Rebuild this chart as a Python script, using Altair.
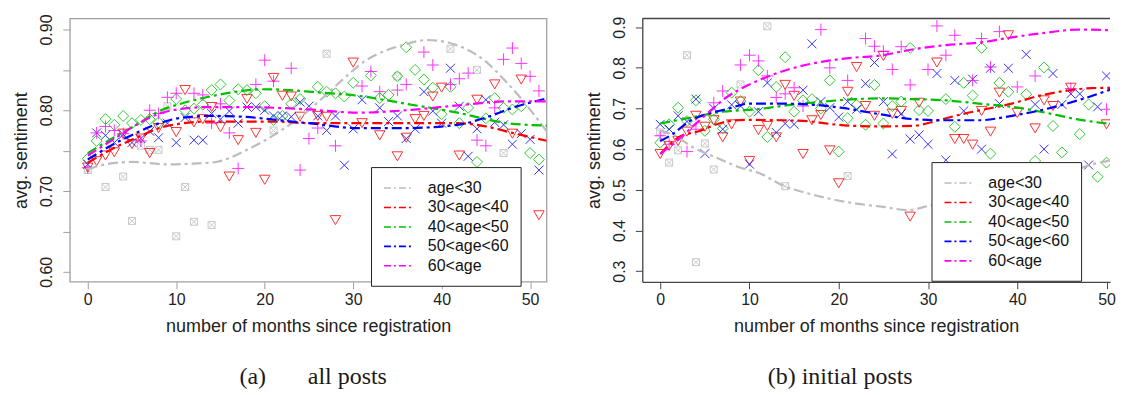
import altair as alt
import pandas as pd

FONT = "Liberation Sans"
SERIES = ["age<30", "30<age<40", "40<age<50", "50<age<60", "60<age"]
COLORS = ["#bdbdbd", "#ff0000", "#00c000", "#0000ff", "#ff00ff"]
SHAPES = ["M-1,-1H1V1H-1ZM-1,-1L1,1M-1,1L1,-1", "triangle-down", "diamond",
          "M-1,-1L1,1M-1,1L1,-1", "M-1,0H1M0,-1V1"]
SIZES = [49, 110, 120, 80, 144]
X_TICKS = [0, 10, 20, 30, 40, 50]

# ---------------- panel (a): all posts ----------------
A_GRAY = [(0, .726), (2, .705), (4, .718), (5, .663), (6, .756), (7, .751), (8, .751), (9, .805),
          (10, .644), (11, .705), (12, .662), (14, .658), (21, .775), (27, .870), (35, .842),
          (41, .876), (44, .850), (47, .747)]
A_RED = [(0, .729), (1, .737), (2, .744), (3, .748), (4, .771), (5, .758), (6, .765), (7, .747),
         (8, .778), (10, .773), (11, .825), (12, .785), (13, .789), (14, .804), (15, .779),
         (16, .718), (17, .763), (18, .814), (19, .772), (20, .714), (21, .840), (22, .818),
         (23, .817), (24, .792), (26, .793), (27, .792), (28, .664), (30, .859), (31, .784),
         (33, .769), (35, .743), (36, .766), (37, .789), (38, .793), (39, .817), (40, .828),
         (42, .744), (44, .813), (46, .832), (48, .771), (49, .838), (51, .670)]
A_GREEN = [(0, .740), (1, .762), (2, .789), (3, .782), (4, .793), (5, .784), (6, .788), (7, .789),
           (8, .785), (10, .814), (11, .800), (12, .802), (13, .807), (14, .825), (15, .832),
           (16, .812), (17, .826), (18, .825), (19, .821), (20, .805), (21, .788), (22, .793),
           (23, .808), (24, .814), (26, .829), (27, .823), (28, .821), (29, .817), (30, .834),
           (32, .843), (33, .815), (34, .819), (35, .842), (36, .878), (37, .850), (38, .838),
           (39, .828), (40, .795), (41, .829), (42, .784), (43, .803), (44, .736), (45, .790),
           (46, .815), (47, .803), (48, .801), (49, .805), (50, .747), (51, .739)]
A_BLUE = [(0, .733), (1, .772), (2, .769), (3, .760), (4, .770), (5, .760), (6, .765), (7, .774),
          (8, .766), (9, .784), (10, .760), (11, .791), (12, .763), (13, .763), (14, .796),
          (15, .789), (16, .799), (17, .784), (18, .804), (19, .804), (20, .800), (21, .793),
          (22, .793), (23, .792), (24, .810), (25, .805), (26, .793), (27, .775), (28, .793),
          (29, .732), (30, .777), (31, .813), (33, .803), (34, .786), (35, .793), (36, .765),
          (37, .777), (38, .823), (39, .799), (40, .784), (41, .852), (42, .805), (43, .743),
          (44, .777), (45, .813), (46, .785), (47, .782), (48, .758), (49, .771), (50, .764),
          (51, .726)]
A_MAGENTA = [(0, .729), (1, .772), (2, .780), (3, .775), (4, .771), (6, .762), (7, .800), (8, .796),
             (9, .816), (10, .821), (12, .821), (13, .819), (14, .784), (15, .808), (16, .772),
             (17, .728), (19, .832), (20, .862), (21, .836), (23, .852), (24, .726), (25, .765),
             (26, .778), (28, .756), (31, .830), (32, .848), (33, .823), (35, .825), (36, .832),
             (38, .872), (39, .856), (41, .832), (42, .839), (43, .846), (44, .763), (45, .756),
             (46, .803), (47, .863), (48, .877), (49, .858), (50, .842), (51, .824)]

A_FIT_GRAY = [(0, .727), (2, .733), (5, .736), (9, .733), (12, .734), (14.5, .736), (18, .751),
              (22, .776), (25, .800), (28, .830), (31.5, .862), (35.7, .881), (38.4, .887),
              (41, .883), (44.8, .862), (47.4, .834), (49.7, .805), (52, .772)]
A_FIT_RED = [(0, .735), (2.9, .753), (5.5, .766), (8.1, .778), (10.8, .784), (13.8, .786),
             (17.5, .786), (21.3, .786), (25, .784), (30.5, .784), (36, .784), (41.8, .784),
             (45, .780), (48, .772), (52, .762)]
A_FIT_GREEN = [(0, .747), (2.9, .766), (5.5, .782), (8.1, .799), (10.8, .809), (13.8, .817),
               (16.8, .823), (19.8, .826), (22.8, .825), (25, .823), (30.5, .818), (36, .808),
               (41.8, .797), (47.4, .784), (52, .781)]
A_FIT_BLUE = [(0, .739), (2.9, .758), (5.5, .772), (8.1, .784), (10.8, .791), (13.8, .793),
              (17.5, .792), (21.3, .788), (25, .784), (30.5, .778), (36, .778), (41.8, .782),
              (45, .791), (48, .803), (52, .815)]
A_FIT_MAGENTA = [(0, .744), (2.9, .764), (5.5, .782), (8.1, .796), (10.8, .802), (13.8, .804),
                 (17.5, .804), (21.3, .803), (25, .801), (30.5, .797), (36, .800), (41.8, .806),
                 (47.4, .811), (52, .811)]

# ---------------- panel (b): initial posts ----------------
B_GRAY = [(0, .641), (1, .567), (2, .597), (3, .831), (4, .322), (5, .614), (6, .550), (9, .759),
          (12, .902), (14, .509), (21, .534)]
B_RED = [(0, .588), (1, .608), (2, .620), (3, .643), (4, .682), (5, .655), (6, .671), (7, .629),
         (8, .661), (9, .717), (10, .571), (11, .647), (12, .657), (13, .629), (14, .758),
         (15, .731), (16, .588), (17, .671), (18, .684), (19, .597), (20, .516), (21, .741),
         (22, .802), (23, .706), (24, .682), (25, .829), (26, .687), (27, .694), (28, .434),
         (29, .714), (31, .813), (33, .625), (34, .625), (35, .611), (36, .694), (37, .643),
         (38, .739), (39, .880), (40, .689), (42, .651), (43, .720), (44, .706), (46, .751),
         (50, .661), (51, .510)]
B_GREEN = [(0, .616), (1, .661), (2, .702), (3, .669), (4, .720), (5, .645), (6, .673), (7, .651),
           (8, .739), (9, .718), (10, .692), (11, .794), (12, .630), (13, .753), (14, .826),
           (15, .692), (16, .720), (17, .723), (18, .700), (19, .769), (20, .594), (21, .676),
           (22, .709), (23, .660), (24, .758), (25, .663), (26, .706), (27, .717), (28, .849),
           (29, .696), (30, .694), (32, .723), (33, .655), (34, .763), (35, .732), (36, .849),
           (37, .589), (38, .763), (39, .741), (41, .735), (42, .571), (43, .801), (44, .657),
           (45, .592), (47, .637), (48, .710), (49, .532), (50, .567), (51, .692)]
B_BLUE = [(0, .661), (1, .649), (2, .682), (3, .668), (4, .723), (5, .589), (6, .700), (7, .649),
          (8, .709), (9, .706), (10, .563), (11, .692), (12, .763), (13, .641), (14, .663),
          (15, .661), (16, .745), (17, .859), (18, .717), (19, .702), (20, .679), (21, .717),
          (22, .698), (23, .761), (24, .813), (25, .717), (26, .588), (27, .687), (28, .625),
          (29, .635), (30, .612), (31, .786), (32, .573), (33, .769), (34, .694), (35, .772),
          (36, .600), (37, .799), (38, .712), (39, .799), (41, .833), (42, .710), (43, .600),
          (44, .786), (45, .710), (46, .736), (47, .736), (48, .561), (49, .704), (50, .780),
          (51, .851)]
B_MAGENTA = [(0, .633), (1, .612), (3, .594), (4, .649), (6, .714), (7, .743), (9, .807), (10, .831),
             (11, .817), (12, .780), (13, .727), (14, .736), (15, .751), (16, .706), (18, .894),
             (19, .800), (21, .769), (23, .872), (24, .853), (25, .841), (26, .796), (27, .852),
             (28, .758), (30, .796), (31, .903), (32, .831), (33, .880), (35, .769), (36, .872),
             (37, .802), (38, .889), (40, .753), (42, .780), (46, .749), (50, .698)]

B_FIT_GRAY = [(0, .645), (1.5, .635), (3.7, .604), (6.3, .579), (8.9, .555), (11.2, .540),
              (13.8, .510), (16.4, .492), (19, .478), (22, .466), (25, .458), (27.8, .450),
              (30, .460), (34, .480), (38, .500), (42, .520), (46.2, .546), (48, .560), (51.3, .575)]
B_FIT_RED = [(0, .588), (2, .628), (4.3, .644), (6.9, .665), (9.5, .672), (13.4, .671),
             (16.4, .669), (19.4, .661), (22, .657), (24.6, .656), (28.2, .657), (31.2, .671),
             (33.8, .686), (36.4, .698), (39.4, .712), (42.4, .731), (45.3, .743), (48.3, .750),
             (51.3, .751)]
B_FIT_GREEN = [(0, .663), (3.3, .677), (7, .692), (10.8, .698), (14.6, .709), (18.3, .717),
               (22, .723), (24.6, .725), (28.2, .723), (32, .720), (35.7, .712), (39.4, .704),
               (43.1, .690), (46.8, .673), (51.3, .660)]
B_FIT_BLUE = [(0, .620), (1.4, .637), (3.3, .669), (5.2, .686), (7.4, .698), (10, .712),
              (13.4, .712), (17.2, .709), (20.2, .702), (24.6, .686), (28.2, .674), (32, .671),
              (35.7, .671), (39.4, .682), (43.1, .698), (46.8, .720), (51.3, .753)]
B_FIT_MAGENTA = [(0, .589), (1.4, .612), (3.3, .649), (5.2, .686), (7.4, .727), (10, .759),
                 (12.7, .784), (15.7, .804), (18.7, .817), (21.7, .825), (24.6, .830), (28.2, .845),
                 (32, .856), (35.7, .862), (39.4, .875), (43.1, .886), (46.8, .894), (51.3, .892)]


def frame(groups, styled=False):
    rows = []
    for i, (name, pts) in enumerate(zip(SERIES, groups)):
        for m, v in pts:
            row = {"month": m, "value": v, "series": name}
            if styled:
                row.update({"col": COLORS[i], "shp": SHAPES[i], "sz": SIZES[i]})
            rows.append(row)
    return pd.DataFrame(rows)


def panel(points, fits, xdom, ydom, yticks, ylabel_expr, width, height, frame_color,
          legend_xy, caption, caption_dx, open_right):
    x = alt.X("month:Q", scale=alt.Scale(domain=xdom, nice=False, zero=False),
              axis=alt.Axis(values=X_TICKS, title="number of months since registration",
                            grid=False, domain=open_right, domainColor=frame_color,
                            domainWidth=1.3, tickSize=7, tickColor=frame_color,
                            labelFont=FONT, labelFontSize=16, labelColor="#222",
                            labelPadding=3, labelOverlap=False, labelFlush=False,
                            titleFont=FONT, titleFontSize=18, titleFontWeight="normal",
                            titleColor="#222", titlePadding=10))
    y = alt.Y("value:Q", scale=alt.Scale(domain=ydom, nice=False, zero=False),
              axis=alt.Axis(values=yticks, labelExpr=ylabel_expr, title="avg. sentiment",
                            grid=False, domain=open_right, domainColor=frame_color,
                            domainWidth=1.3, tickSize=7, tickColor=frame_color,
                            labelFont=FONT, labelFontSize=16, labelColor="#222",
                            labelAngle=270, labelAlign="center", labelBaseline="alphabetic",
                            labelPadding=11, labelOverlap=False, labelFlush=False,
                            titleFont=FONT, titleFontSize=18, titleFontWeight="normal",
                            titleColor="#222", titlePadding=8))
    pts = alt.Chart(frame(points, styled=True)).mark_point(
        filled=False, strokeWidth=1, opacity=0.8, clip=True).encode(
        x=x, y=y,
        stroke=alt.Stroke("col:N", scale=None),
        shape=alt.Shape("shp:N", scale=None),
        size=alt.Size("sz:Q", scale=None),
    )
    lines = alt.Chart(frame(fits)).mark_line(strokeDash=[10, 4, 3, 4], strokeWidth=2.2,
                                             interpolate="monotone", clip=True).encode(
        x=x, y=y,
        color=alt.Color("series:N", scale=alt.Scale(domain=SERIES, range=COLORS),
                        legend=alt.Legend(title=None, orient="none", legendX=legend_xy[0],
                                          legendY=legend_xy[1], fillColor="white",
                                          strokeColor="#222", padding=12,
                                          symbolType="M-1,0H2.75", symbolSize=256,
                                          symbolStrokeWidth=1.6, symbolDash=[7, 3, 2, 3],
                                          labelFont=FONT, labelFontSize=16, labelColor="#111",
                                          labelOffset=27, rowPadding=2.5)),
    )
    layers = [pts, lines]
    if open_right:
        top = alt.Chart(pd.DataFrame({"k": [0]})).mark_rule(
            color=frame_color, strokeWidth=1.3).encode(
            y=alt.value(0), x=alt.value(0), x2=alt.value(width))
        layers.append(top)
    view = alt.ViewBackground(stroke=None) if open_right else alt.ViewBackground(
        stroke=frame_color, strokeWidth=1.3)
    return alt.layer(*layers).properties(
        width=width, height=height, view=view,
        title=alt.TitleParams(caption, orient="bottom", anchor="middle", font="Liberation Serif",
                              fontSize=24, fontWeight="normal", color="#1a1a1a", offset=30,
                              dx=caption_dx),
    )


pa = panel([A_GRAY, A_RED, A_GREEN, A_BLUE, A_MAGENTA],
           [A_FIT_GRAY, A_FIT_RED, A_FIT_GREEN, A_FIT_BLUE, A_FIT_MAGENTA],
           [-2.03, 51.86], [0.5877, 0.9136], [0.60, 0.65, 0.70, 0.75, 0.80, 0.85, 0.90],
           "round(datum.value * 100) % 10 == 0 ? format(datum.value, '.2f') : ''",
           478, 264, "#a0a0a0", (302, 149),
           "(a)" + "\u00a0" * 7 + "all posts", 5, False)

pb = panel([B_GRAY, B_RED, B_GREEN, B_BLUE, B_MAGENTA],
           [B_FIT_GRAY, B_FIT_RED, B_FIT_GREEN, B_FIT_BLUE, B_FIT_MAGENTA],
           [-2.01, 50.39], [0.2738, 0.9213], [0.3, 0.4, 0.5, 0.6, 0.7, 0.8, 0.9],
           "format(datum.value, '.1f')",
           469, 264, "#444444", (290, 144),
           "(b) initial posts", -36, True)

chart = alt.hconcat(pa, pb, spacing=37).resolve_scale(
    color="independent"
).resolve_legend(color="independent").properties(
    padding={"left": 4, "top": 4, "right": 0, "bottom": 0}
)

chart.save("out.html", embed_options={"renderer": "svg", "actions": False})
